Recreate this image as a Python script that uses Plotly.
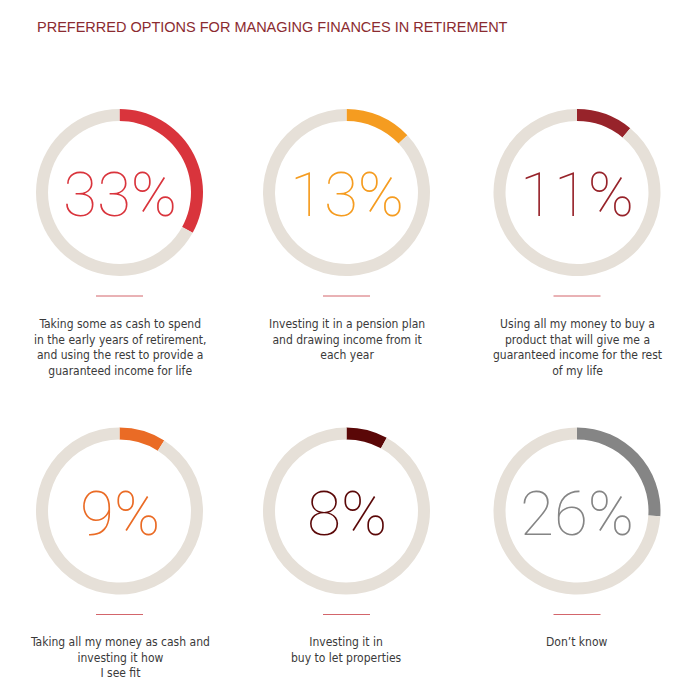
import plotly.graph_objects as go

# data
options = [
    "Taking some as cash to spend<br>in the early years of retirement,<br>and using the rest to provide a<br>guaranteed income for life",
    "Investing it in a pension plan<br>and drawing income from it<br>each year",
    "Using all my money to buy a<br>product that will give me a<br>guaranteed income for the rest<br>of my life",
    "Taking all my money as cash and<br>investing it how<br>I see fit",
    "Investing it in<br>buy to let properties",
    "Don’t know",
]
shares = [33, 13, 11, 9, 8, 26]
colours = ["#d9343c", "#f59c20", "#97232a", "#ea6b25", "#5a0707", "#858585"]

TITLE = "PREFERRED OPTIONS FOR MANAGING FINANCES IN RETIREMENT"
TRACK = "#e6e0d8"

# page body has an 8px margin, so the figure is drawn a bit smaller
OFF = 8
W, H = 696 - 2 * OFF, 692 - 2 * OFF
col_x = [119.5, 346.5, 577]
row_y = [192.5, 511]
R = 83.5


def px(x):
    return (x - OFF) / W


def py(y):
    return 1 - (y - OFF) / H


fig = go.Figure()
shapes = []
annotations = []

for i, (lab, p, c) in enumerate(zip(options, shares, colours)):
    cx = col_x[i % 3]
    cy = row_y[i // 3]
    fig.add_trace(go.Pie(
        values=[p, 100 - p],
        marker=dict(colors=[c, TRACK], line=dict(width=0)),
        hole=0.856,
        sort=False,
        direction="clockwise",
        rotation=0,
        textinfo="none",
        hoverinfo="skip",
        showlegend=False,
        domain=dict(x=[px(cx - R), px(cx + R)], y=[py(cy + R), py(cy - R)]),
    ))
    annotations.append(dict(
        x=px(cx), y=py(cy + 2), xref="paper", yref="paper",
        text=f"{p}%", showarrow=False, xanchor="center", yanchor="middle",
        font=dict(family="Roboto", weight=100, size=62, color=c),
    ))
    shapes.append(dict(
        type="line", xref="paper", yref="paper",
        x0=px(cx - 23.5), x1=px(cx + 23.5), y0=py(cy + 103.5), y1=py(cy + 103.5),
        line=dict(color="#d3656b", width=1),
    ))
    annotations.append(dict(
        x=px(cx), y=py(cy + 122), xref="paper", yref="paper",
        text=lab, showarrow=False, xanchor="center", yanchor="top", align="center",
        font=dict(family="Liberation Sans Narrow, DejaVu Sans Condensed, sans-serif",
                  size=12, color="#3a3a3a"),
    ))

annotations.append(dict(
    x=px(35), y=py(27), xref="paper", yref="paper", text=TITLE, showarrow=False,
    xanchor="left", yanchor="middle",
    font=dict(family="Liberation Sans, sans-serif", size=14.5, color="#8b2b30"),
))

fig.update_layout(
    width=W, height=H,
    margin=dict(l=0, r=0, t=0, b=0),
    paper_bgcolor="white", plot_bgcolor="white",
    shapes=shapes, annotations=annotations,
)

fig.write_html("out.html")
